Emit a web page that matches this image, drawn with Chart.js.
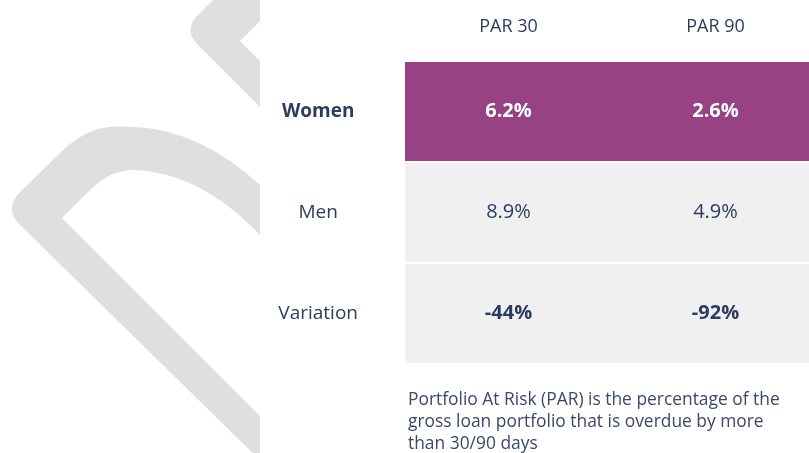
<!DOCTYPE html>
<html>
<head>
<meta charset="utf-8">
<script src="https://cdn.jsdelivr.net/npm/chart.js@4.4.1/dist/chart.umd.min.js"></script>
<style>
  html, body { margin: 0; padding: 0; background: #fff; }
  #wrap { width: 809px; height: 453px; position: relative; }
</style>
</head>
<body>
<div id="wrap"><canvas id="parTable"></canvas></div>
<script>
// table data
var columns = ['PAR 30', 'PAR 90'];
var rows = ['Women', 'Men', 'Variation'];
var par30 = [6.2, 8.9, -44];
var par90 = [2.6, 4.9, -92];
var note = [
    'Portfolio At Risk (PAR) is the percentage of the',
    'gross loan portfolio that is overdue by more',
    'than 30/90 days'
];

var navy = '#2c3b5f';
var purple = '#964283';
var grey = '#f0f0f0';
var family = '"Open Sans", sans-serif';

// per row look
var rowFill = [purple, grey, grey];
var rowText = ['#ffffff', navy, navy];
var rowWeight = ['bold', 'normal', 'bold'];

var colWidth = 207;          // px per column, table runs past the right edge
var xMax = 404 / colWidth;

function fmt(v) {
    return (Number.isInteger(v) ? String(v) : v.toFixed(1)) + '%';
}

// light grey logo shape behind the labels
var watermark = {
    id: 'watermark',
    beforeDraw: function (chart) {
        var ctx = chart.ctx;
        ctx.save();
        ctx.beginPath();
        ctx.rect(0, 0, 260, 453);
        ctx.clip();
        ctx.fillStyle = '#dfdfdf';

        ctx.beginPath();
        ctx.moveTo(300, -20);
        ctx.lineTo(233, -20);
        ctx.lineTo(198, 15);
        ctx.quadraticCurveTo(183, 30, 198, 45);
        ctx.lineTo(300, 147);
        ctx.lineTo(300, 101);
        ctx.lineTo(240, 41);
        ctx.lineTo(300, -19);
        ctx.closePath();
        ctx.fill();

        ctx.beginPath();
        ctx.moveTo(270, 470);
        ctx.lineTo(20, 225);
        ctx.quadraticCurveTo(3.5, 208.5, 20, 192);
        ctx.lineTo(60, 153);
        ctx.bezierCurveTo(90, 124, 110, 126, 135, 127);
        ctx.quadraticCurveTo(200, 130, 260, 185);
        ctx.lineTo(300, 225);
        ctx.lineTo(300, 280);
        ctx.lineTo(260, 235);
        ctx.quadraticCurveTo(200, 172, 133, 170);
        ctx.quadraticCurveTo(110, 170, 88, 192);
        ctx.lineTo(62, 218);
        ctx.lineTo(300, 456);
        ctx.lineTo(300, 470);
        ctx.closePath();
        ctx.fill();
        ctx.restore();
    }
};

// values written in the middle of each cell
var cellText = {
    id: 'cellText',
    afterDatasetsDraw: function (chart) {
        var ctx = chart.ctx;
        ctx.save();
        ctx.textAlign = 'center';
        ctx.textBaseline = 'middle';
        chart.data.datasets.forEach(function (ds, di) {
            var meta = chart.getDatasetMeta(di);
            meta.data.forEach(function (bar, ri) {
                var p = bar.getCenterPoint();
                ctx.fillStyle = rowText[ri];
                ctx.font = rowWeight[ri] + ' 20px ' + family;
                ctx.fillText(fmt(ds.values[ri]), p.x, p.y);
            });
        });
        ctx.restore();
    }
};

// footnote under the table
var footnote = {
    id: 'footnote',
    afterDraw: function (chart) {
        var ctx = chart.ctx;
        ctx.save();
        ctx.fillStyle = '#3c4868';
        ctx.font = '17.4px ' + family;
        ctx.textAlign = 'left';
        ctx.textBaseline = 'middle';
        note.forEach(function (line, i) {
            ctx.fillText(line, 408, 400 + i * 22);
        });
        ctx.restore();
    }
};

var allValues = [par30, par90];

new Chart(document.getElementById('parTable').getContext('2d'), {
    type: 'bar',
    data: {
        labels: rows,
        datasets: columns.map(function (c, ci) {
            return {
                label: c,
                values: allValues[ci],
                data: rows.map(function () { return [ci, ci + 1]; }),
                backgroundColor: rowFill,
                borderWidth: 0,
                grouped: false,
                barPercentage: 1,
                categoryPercentage: 99 / 101
            };
        })
    },
    options: {
        indexAxis: 'y',
        responsive: true,
        maintainAspectRatio: false,
        animation: false,
        layout: { padding: { left: 0, top: 0, right: 0, bottom: 89 } },
        plugins: {
            legend: { display: false },
            tooltip: { enabled: false }
        },
        scales: {
            x: { type: 'linear', min: 0, max: xMax, display: false },
            x2: {
                type: 'linear',
                position: 'top',
                min: 0,
                max: xMax,
                grid: { display: false, drawTicks: false },
                border: { display: false },
                afterBuildTicks: function (s) {
                    s.ticks = columns.map(function (c, i) { return { value: i + 0.5 }; });
                },
                afterFit: function (s) { s.height = 61; },
                ticks: {
                    autoSkip: false,
                    maxRotation: 0,
                    padding: 23,
                    color: navy,
                    font: { family: family, size: 18 },
                    callback: function (v, i) { return columns[i]; }
                }
            },
            y: {
                grid: { display: false, drawTicks: false },
                border: { display: false },
                afterFit: function (s) { s.width = 405; },
                ticks: {
                    crossAlign: 'center',
                    padding: 47,
                    color: navy,
                    font: function (ctx) {
                        return { family: family, size: 19, weight: ctx.index === 0 ? 'bold' : 'normal' };
                    }
                }
            }
        }
    },
    plugins: [watermark, cellText, footnote]
});
</script>
</body>
</html>
